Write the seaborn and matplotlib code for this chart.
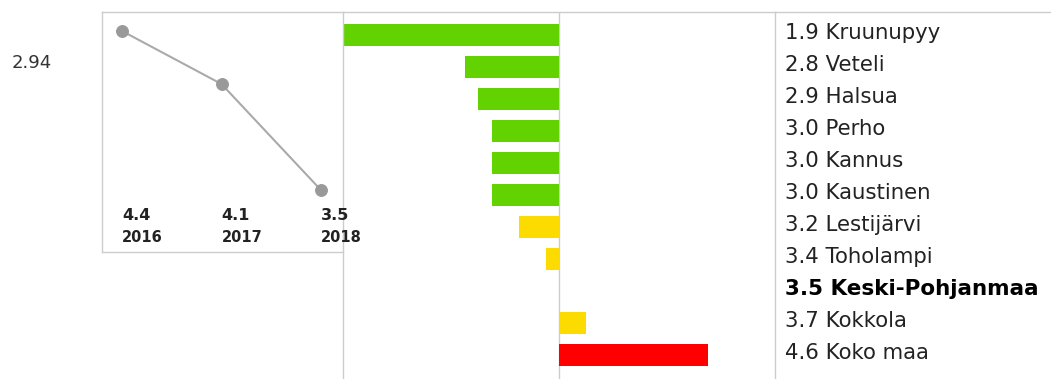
import matplotlib
matplotlib.use("Agg")
import matplotlib.pyplot as plt
import matplotlib.transforms as mtransforms
from matplotlib.lines import Line2D
import seaborn as sns

# Data
regions = ["Kruunupyy", "Veteli", "Halsua", "Perho", "Kannus", "Kaustinen",
           "Lestijärvi", "Toholampi", "Keski-Pohjanmaa", "Kokkola", "Koko maa"]
region_values = [1.9, 2.8, 2.9, 3.0, 3.0, 3.0, 3.2, 3.4, 3.5, 3.7, 4.6]
highlight = "Keski-Pohjanmaa"
reference_value = 3.5

trend_years = [2016, 2017, 2018]
trend_values = [4.4, 4.1, 3.5]

side_value = "2.94"

# Style
sns.set_style("white")
plt.rcParams["font.family"] = ["DejaVu Sans"]
GRID = "#cccccc"
GREEN, YELLOW, RED = "#62d200", "#fcdc00", "#ff0000"


def bar_color(v):
    if v <= 3.0:
        return GREEN
    if v < 4.0:
        return YELLOW
    return RED


W, H = 1051, 379
fig = plt.figure(figsize=(W / 100, H / 100), dpi=100)


def px_axes(x0, y0, x1, y1):
    return fig.add_axes([x0 / W, 1 - y1 / H, (x1 - x0) / W, (y1 - y0) / H])


# Bar panel (deviation from the reference value)
bar_ax = px_axes(343, 12, 775, 379)
bar_ax.patch.set_visible(False)
deviation = [round(v - reference_value, 2) for v in region_values]
palette = {r: bar_color(v) for r, v in zip(regions, region_values)}
sns.barplot(x=deviation, y=regions, hue=regions, palette=palette, legend=False,
            orient="h", width=0.69, ax=bar_ax, saturation=1, linewidth=0)
bar_ax.set_xlim(-1.6, 1.6)
bar_ax.set_ylim(10.75, -0.72)
bar_ax.axvline(0, color=GRID, linewidth=1.0, zorder=0)
bar_ax.set_xticks([])
bar_ax.set_xlabel("")
bar_ax.set_ylabel("")
bar_ax.yaxis.tick_right()
bar_ax.set_yticks(range(len(regions)))
bar_ax.set_yticklabels([f"{v:.1f} {r}" for r, v in zip(regions, region_values)])
bar_ax.tick_params(axis="y", length=0, pad=7, labelsize=15.3, labelcolor="#222222")
shift = mtransforms.ScaledTranslation(0, 4 / 100, fig.dpi_scale_trans)
for lab, r in zip(bar_ax.get_yticklabels(), regions):
    lab.set_transform(lab.get_transform() + shift)
    if r == highlight:
        lab.set_fontweight("bold")
        lab.set_fontsize(15.5)
        lab.set_color("black")
for side in ["left", "right", "top"]:
    bar_ax.spines[side].set_color(GRID)
    bar_ax.spines[side].set_linewidth(1.0)
bar_ax.spines["bottom"].set_visible(False)

# Trend panel
line_ax = px_axes(102, 12, 343, 252)
line_ax.patch.set_visible(False)
sns.lineplot(x=trend_years, y=trend_values, ax=line_ax, color="#aaaaaa",
             linewidth=1.5, marker="o", markersize=8.5,
             markerfacecolor="#999999", markeredgecolor="#999999")
line_ax.set_xlim(2016 - 0.2, 2018 + 0.22)
line_ax.set_ylim(3.151, 4.507)
line_ax.set_xticks([])
line_ax.set_yticks([])
line_ax.set_xlabel("")
line_ax.set_ylabel("")
for side in ["left", "top", "bottom"]:
    line_ax.spines[side].set_color(GRID)
    line_ax.spines[side].set_linewidth(1.0)
line_ax.spines["right"].set_visible(False)
trans = mtransforms.blended_transform_factory(line_ax.transData, line_ax.transAxes)
for yr, v in zip(trend_years, trend_values):
    line_ax.text(yr, 0.154, f"{v:.1f}", transform=trans, ha="left", va="center",
                 fontsize=11.5, fontweight="bold", color="#222222", clip_on=False)
    line_ax.text(yr, 0.0625, str(yr), transform=trans, ha="left", va="center",
                 fontsize=10.5, fontweight="bold", color="#222222", clip_on=False)

fig.text(12 / W, 1 - 63 / H, side_value, ha="left", va="center",
         fontsize=13, color="#333333")

# top rule extending to the right edge
fig.add_artist(Line2D([775 / W, 1.0], [1 - 12 / H, 1 - 12 / H],
                      color=GRID, linewidth=1.0, transform=fig.transFigure))

fig.savefig("out.png", dpi=100)
